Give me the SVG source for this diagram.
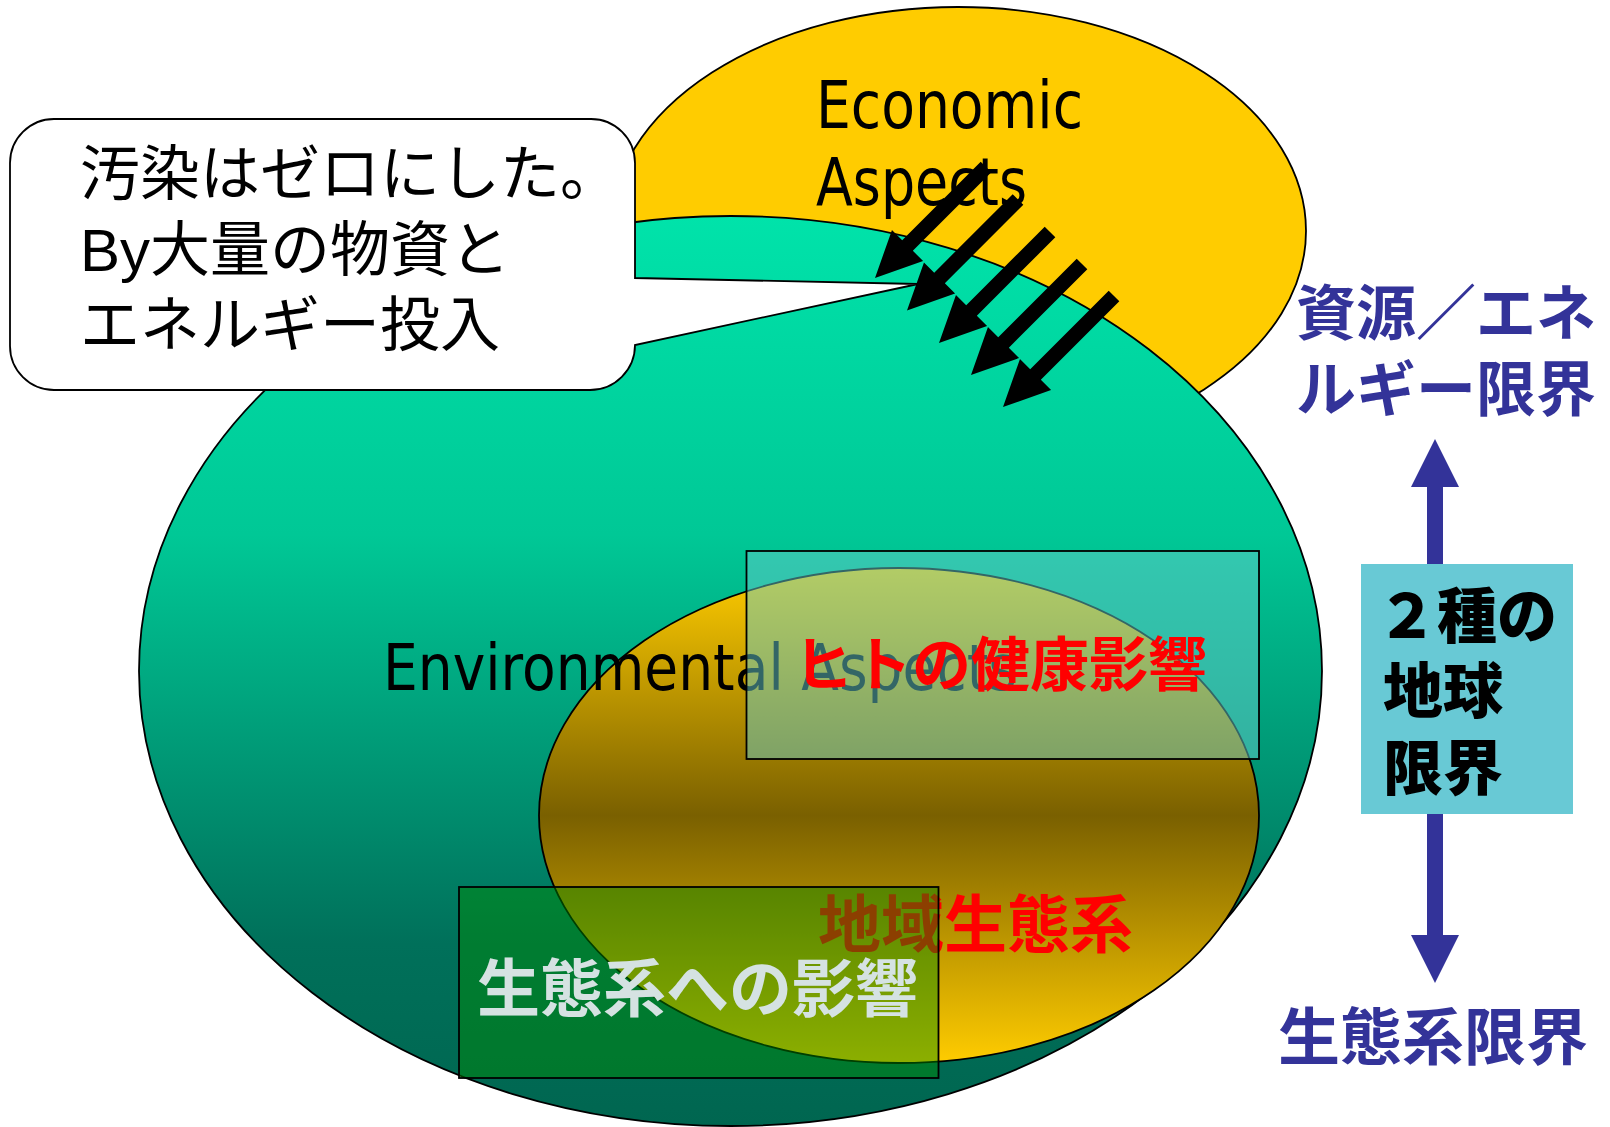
<svg xmlns="http://www.w3.org/2000/svg" xmlns:xlink="http://www.w3.org/1999/xlink" width="1610" height="1127" viewBox="0 0 1610 1127">
<defs>
<style>
.ol{stroke:#000;stroke-width:1.8}
.jp{font-family:"Noto Sans CJK JP","Noto Sans",sans-serif}
.lat{font-family:"Liberation Sans","Noto Sans CJK JP",sans-serif}
.blue{fill:#333399;font-weight:700}
.red{fill:#FF0000;font-weight:700}
</style>
<linearGradient id="gGreen" x1="0" y1="0" x2="0" y2="1">
<stop offset="0" stop-color="#00E3AA"/>
<stop offset="0.35" stop-color="#00C896"/>
<stop offset="0.8" stop-color="#00705A"/>
<stop offset="1" stop-color="#006650"/>
</linearGradient>
<linearGradient id="gGold" x1="0" y1="0" x2="0" y2="1">
<stop offset="0" stop-color="#FFCC00"/>
<stop offset="0.5" stop-color="#7A6000"/>
<stop offset="1" stop-color="#FFCC00"/>
</linearGradient>
<polygon id="bigArrow" points="0,0 -46,-22 -46,-7.5 -157,-7.5 -157,7.5 -46,7.5 -46,22" fill="#000"/>
</defs>

<g id="economic">
<ellipse cx="958" cy="231" rx="348" ry="224" fill="#FFCC00" class="ol"/>
</g>
<g id="environmental">
<ellipse cx="730.5" cy="671" rx="591.5" ry="455" fill="url(#gGreen)" class="ol"/>
</g>
<g id="economic-label">
<text x="816" y="128" font-family="DejaVu Sans Condensed, DejaVu Sans, sans-serif" font-size="65" textLength="267" lengthAdjust="spacingAndGlyphs" fill="#000">Economic</text>
<text x="816" y="205" font-family="DejaVu Sans Condensed, DejaVu Sans, sans-serif" font-size="65" textLength="211" lengthAdjust="spacingAndGlyphs" fill="#000">Aspects</text>
</g>

<g id="callout">
<path d="M54,119 H591 A44,44 0 0 1 635,163 V278 L918,284 L635,345 A45,45 0 0 1 590,390 H54 A44,44 0 0 1 10,346 V163 A44,44 0 0 1 54,119 Z" fill="#FFFFFF" class="ol"/>
<text class="lat" font-size="60" fill="#000">
<tspan x="80" y="195">汚染はゼロにした。</tspan>
<tspan x="80" y="271">By大量の物資と</tspan>
<tspan x="80" y="346">エネルギー投入</tspan>
</text>
</g>

<g id="local-ecosystem">
<ellipse cx="899" cy="815.5" rx="360" ry="247.5" fill="url(#gGold)" class="ol" stroke-width="1.5"/>
</g>

<g id="env-label">
<text x="383" y="690" font-family="DejaVu Sans, sans-serif" font-size="64" textLength="634" lengthAdjust="spacingAndGlyphs" fill="#000">Environmental Aspects</text>
<text x="818" y="947" class="jp red" font-size="63">地域生態系</text>
</g>

<g id="health-box">
<rect x="746.5" y="551" width="512.5" height="208" fill="#66CCCC" fill-opacity="0.5" class="ol"/>
<text x="794" y="686" class="jp red" font-size="59">ヒトの健康影響</text>
</g>

<g id="ecosystem-box">
<rect x="459" y="887" width="479.5" height="191" fill="#008C00" fill-opacity="0.45" class="ol"/>
<text x="477" y="1011" class="jp" font-size="63" font-weight="700" fill="#D5E2E2">生態系への影響</text>
</g>

<g id="connectors">
<use xlink:href="#bigArrow" transform="translate(875,278) rotate(135)"/>
<use xlink:href="#bigArrow" transform="translate(907,310.5) rotate(135)"/>
<use xlink:href="#bigArrow" transform="translate(939,343) rotate(135)"/>
<use xlink:href="#bigArrow" transform="translate(971,375) rotate(135)"/>
<use xlink:href="#bigArrow" transform="translate(1003,407) rotate(135)"/>
<polygon points="1435,439 1459,487 1443,487 1443,564 1427,564 1427,487 1411,487" fill="#333399"/>
<polygon points="1435,983 1459,935 1443,935 1443,814 1427,814 1427,935 1411,935" fill="#333399"/>
</g>

<g id="limits-box">
<rect x="1361" y="564" width="212" height="250" fill="#68C9D5"/>
<text class="jp" font-size="60" font-weight="900" fill="#000">
<tspan x="1377" y="638">２種の</tspan>
<tspan x="1383" y="713">地球</tspan>
<tspan x="1383" y="790">限界</tspan>
</text>
</g>

<g id="resource-limit">
<text class="jp blue" font-size="60">
<tspan x="1296" y="335">資源／エネ</tspan>
<tspan x="1296" y="411">ルギー限界</tspan>
</text>
</g>

<g id="ecosystem-limit">
<text x="1278" y="1060" class="jp blue" font-size="62">生態系限界</text>
</g>
</svg>
